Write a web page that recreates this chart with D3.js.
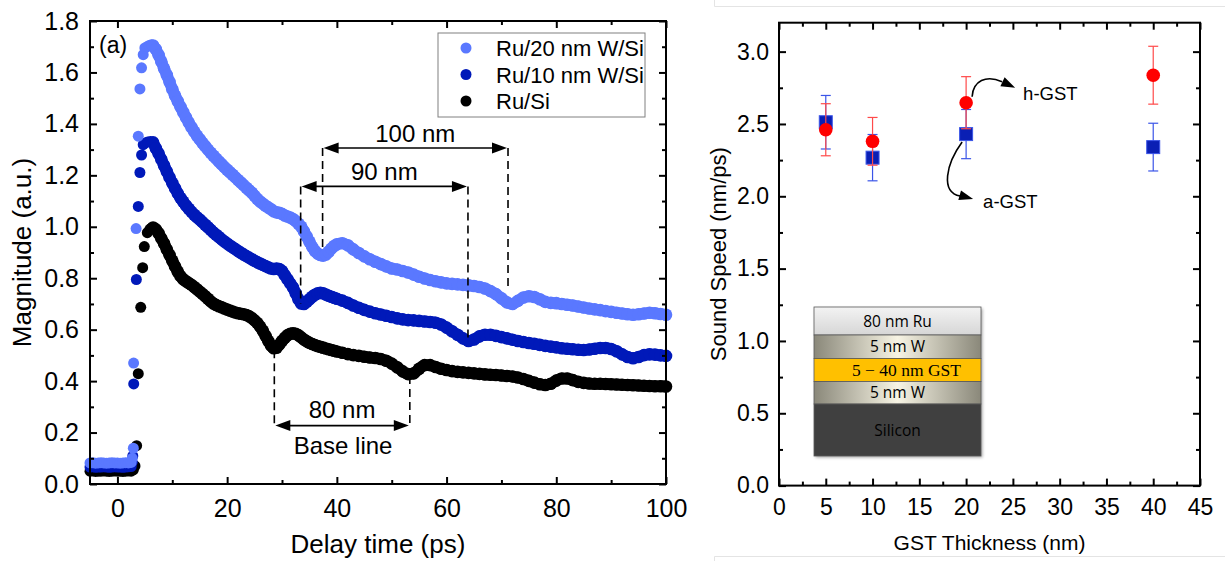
<!DOCTYPE html>
<html>
<head>
<meta charset="utf-8">
<script src="https://cdn.jsdelivr.net/npm/d3@7"></script>
<style>
  body { margin: 0; background: #fff; }
  text { font-family: Arial, "Liberation Sans", sans-serif; fill: #000; }
</style>
</head>
<body>
<svg width="1225" height="561"></svg>
<script>
var svg = d3.select('svg');

// ---------------- panel (a): magnitude vs delay time ----------------
var seriesNames = ['Ru/20 nm W/Si', 'Ru/10 nm W/Si', 'Ru/Si'];
var seriesColours = ['#5a78ff', '#0019b9', '#000000'];

// flat part before time zero
var baseTime = [-5, -4.5, -4, -3.5, -3, -2.5, -2, -1.5, -1, -0.5, 0, 0.5, 1, 1.5, 2, 2.5];
var w20Base = [0.082, 0.083, 0.081, 0.082, 0.083, 0.082, 0.081, 0.082, 0.083, 0.082, 0.082, 0.081, 0.082, 0.083, 0.082, 0.084];
var w10Base = [0.066, 0.067, 0.065, 0.066, 0.066, 0.067, 0.066, 0.065, 0.066, 0.067, 0.066, 0.066, 0.065, 0.066, 0.067, 0.068];
var ruSiBase = [0.050, 0.051, 0.049, 0.050, 0.050, 0.051, 0.050, 0.049, 0.050, 0.051, 0.050, 0.050, 0.049, 0.050, 0.051, 0.050];

// the rise (separate dots)
var w20RiseTime = [2.7, 2.9, 2.95, 3.4, 3.8, 4.1, 4.4, 4.7, 5.0, 5.4, 5.8, 6.2];
var w20RiseVal = [0.10, 0.139, 0.47, 0.993, 1.352, 1.536, 1.618, 1.669, 1.695, 1.700, 1.705, 1.708];
var w10RiseTime = [2.7, 2.8, 2.97, 3.45, 3.8, 4.1, 4.4, 4.7, 5.1, 5.5, 6.0];
var w10RiseVal = [0.085, 0.109, 0.389, 0.795, 1.079, 1.211, 1.279, 1.319, 1.326, 1.330, 1.332];
var ruSiRiseTime = [2.9, 3.2, 3.5, 3.8, 4.25, 4.6, 4.9, 5.45, 5.9, 6.2];
var ruSiRiseVal = [0.055, 0.07, 0.149, 0.429, 0.687, 0.841, 0.923, 0.977, 0.99, 0.995];

// decay after the peak
var decayTime = [6.5, 7, 7.5, 8, 8.5, 9, 9.5, 10, 10.5, 11,
    11.5, 12, 12.5, 13, 13.5, 14, 14.5, 15, 15.5, 16,
    16.5, 17, 17.5, 18, 18.5, 19, 19.5, 20, 20.5, 21,
    21.5, 22, 22.5, 23, 23.5, 24, 24.5, 25, 25.5, 26,
    26.5, 27, 27.5, 28, 28.5, 29, 29.5, 30, 30.5, 31,
    31.5, 32, 32.5, 33, 33.5, 34, 34.5, 35, 35.5, 36,
    36.5, 37, 37.5, 38, 38.5, 39, 39.5, 40,
    41, 42, 43, 44, 45, 46, 47, 48, 49, 50,
    51, 52, 53, 54, 55, 56, 57, 58, 59, 60,
    61, 62, 63, 64, 65, 66, 67, 68, 69, 70,
    71, 72, 73, 74, 75, 76, 77, 78, 79, 80,
    81, 82, 83, 84, 85, 86, 87, 88, 89, 90,
    91, 92, 93, 94, 95, 96, 97, 98, 99, 100];
var w20Decay = [1.705, 1.690, 1.668, 1.642, 1.615, 1.590, 1.563, 1.535, 1.510, 1.488,
    1.466, 1.445, 1.425, 1.405, 1.387, 1.370, 1.354, 1.340, 1.326, 1.313,
    1.300, 1.288, 1.276, 1.265, 1.254, 1.243, 1.232, 1.222, 1.212, 1.202,
    1.192, 1.182, 1.172, 1.162, 1.152, 1.142, 1.132, 1.120, 1.108, 1.098,
    1.090, 1.082, 1.075, 1.068, 1.060, 1.056, 1.054, 1.050, 1.044, 1.040,
    1.036, 1.030, 1.022, 1.012, 1.000, 0.982, 0.962, 0.942, 0.922, 0.906,
    0.896, 0.890, 0.888, 0.892, 0.903, 0.915, 0.925, 0.932,
    0.936, 0.928, 0.912, 0.898, 0.885, 0.874, 0.864, 0.855, 0.846, 0.838,
    0.834, 0.828, 0.822, 0.814, 0.806, 0.799, 0.793, 0.788, 0.784, 0.780,
    0.778, 0.776, 0.774, 0.772, 0.770, 0.766, 0.760, 0.750, 0.738, 0.722,
    0.706, 0.700, 0.712, 0.725, 0.730, 0.727, 0.718, 0.708, 0.704, 0.703,
    0.700, 0.697, 0.694, 0.690, 0.686, 0.682, 0.679, 0.676, 0.672, 0.669,
    0.666, 0.663, 0.660, 0.658, 0.660, 0.663, 0.666, 0.664, 0.661, 0.658];
var w10Decay = [1.328, 1.305, 1.285, 1.262, 1.238, 1.215, 1.192, 1.170, 1.150, 1.130,
    1.112, 1.097, 1.083, 1.070, 1.058, 1.047, 1.037, 1.028, 1.018, 1.008,
    0.998, 0.988, 0.978, 0.969, 0.960, 0.951, 0.943, 0.935, 0.927, 0.920,
    0.913, 0.906, 0.899, 0.892, 0.886, 0.880, 0.874, 0.868, 0.862, 0.857,
    0.852, 0.847, 0.842, 0.838, 0.836, 0.838, 0.836, 0.828, 0.812, 0.796,
    0.780, 0.764, 0.742, 0.718, 0.702, 0.700, 0.708, 0.718, 0.728, 0.736,
    0.741, 0.743, 0.741, 0.737, 0.732, 0.728, 0.724, 0.720,
    0.713, 0.704, 0.694, 0.685, 0.677, 0.670, 0.664, 0.659, 0.654, 0.649,
    0.644, 0.640, 0.637, 0.636, 0.634, 0.632, 0.630, 0.627, 0.620, 0.608,
    0.594, 0.580, 0.566, 0.556, 0.562, 0.574, 0.580, 0.580, 0.576, 0.571,
    0.566, 0.561, 0.556, 0.552, 0.548, 0.545, 0.541, 0.537, 0.534, 0.531,
    0.528, 0.526, 0.524, 0.522, 0.521, 0.523, 0.526, 0.529, 0.529, 0.525,
    0.516, 0.504, 0.494, 0.489, 0.494, 0.501, 0.504, 0.503, 0.500, 0.498];
var ruSiDecay = [0.997, 0.990, 0.975, 0.955, 0.935, 0.912, 0.890, 0.868, 0.846, 0.825,
    0.808, 0.796, 0.788, 0.781, 0.774, 0.766, 0.757, 0.748, 0.739, 0.730,
    0.720, 0.710, 0.702, 0.696, 0.691, 0.687, 0.682, 0.678, 0.674, 0.670,
    0.667, 0.664, 0.662, 0.660, 0.657, 0.652, 0.645, 0.636, 0.626, 0.612,
    0.596, 0.576, 0.556, 0.538, 0.528, 0.530, 0.542, 0.556, 0.568, 0.578,
    0.584, 0.586, 0.584, 0.578, 0.570, 0.562, 0.555, 0.549, 0.544, 0.540,
    0.536, 0.533, 0.530, 0.527, 0.524, 0.521, 0.518, 0.515,
    0.510, 0.505, 0.501, 0.498, 0.495, 0.492, 0.490, 0.486, 0.479, 0.468,
    0.454, 0.438, 0.427, 0.430, 0.448, 0.462, 0.462, 0.455, 0.448, 0.443,
    0.439, 0.436, 0.434, 0.432, 0.430, 0.428, 0.426, 0.425, 0.424, 0.422,
    0.420, 0.418, 0.414, 0.408, 0.401, 0.394, 0.388, 0.385, 0.390, 0.402,
    0.410, 0.410, 0.404, 0.397, 0.393, 0.391, 0.390, 0.390, 0.389, 0.388,
    0.387, 0.386, 0.385, 0.384, 0.383, 0.382, 0.381, 0.380, 0.380, 0.379];

// ---------------- panel (b): sound speed vs GST thickness ----------------
var gstThickness = [5, 10, 20, 40];
var hGstSpeed = [2.46, 2.38, 2.647, 2.837];
var hGstErr = [0.18, 0.165, 0.18, 0.2];
var aGstSpeed = [2.512, 2.267, 2.43, 2.34];
var aGstErr = [0.185, 0.16, 0.17, 0.165];

var stackLayers = ['80 nm Ru', '5 nm W', '5 \u2212 40 nm GST', '5 nm W', 'Silicon'];

function pairs(ts, vs, r) {
    return ts.map((t, i) => ({t: t, v: vs[i], r: r}));
}

var series = [
    {name: seriesNames[0], colour: seriesColours[0], decay: pairs(decayTime, w20Decay, 6.3),
     pts: pairs(baseTime, w20Base, 5.5).concat(pairs(w20RiseTime, w20RiseVal, 5.5), pairs(decayTime, w20Decay, 6.3))},
    {name: seriesNames[1], colour: seriesColours[1], decay: pairs(decayTime, w10Decay, 6.3),
     pts: pairs(baseTime, w10Base, 5.5).concat(pairs(w10RiseTime, w10RiseVal, 5.5), pairs(decayTime, w10Decay, 6.3))},
    {name: seriesNames[2], colour: seriesColours[2], decay: pairs(decayTime, ruSiDecay, 6.3),
     pts: pairs(baseTime, ruSiBase, 5.5).concat(pairs(ruSiRiseTime, ruSiRiseVal, 5.5), pairs(decayTime, ruSiDecay, 6.3))}
];

// draw a boxed frame with inward ticks on all four sides
function frame(g, x, y, o) {
    var x0 = x.range()[0], x1 = x.range()[1];
    var y0 = y.range()[0], y1 = y.range()[1];

    var bottom = g.append('g').attr('transform', `translate(0,${y0})`);
    bottom.call(d3.axisBottom(x).tickValues(o.xMajor).tickSizeInner(-7).tickSizeOuter(0)
        .tickPadding(o.xPad).tickFormat(o.xFmt));
    bottom.append('g').call(d3.axisBottom(x).tickValues(o.xMinor).tickSize(-4).tickFormat(''));

    var top = g.append('g').attr('transform', `translate(0,${y1})`);
    top.call(d3.axisTop(x).tickValues(o.xMajor).tickSize(-7).tickFormat(''));
    top.append('g').call(d3.axisTop(x).tickValues(o.xMinor).tickSize(-4).tickFormat(''));

    var left = g.append('g').attr('transform', `translate(${x0},0)`);
    left.call(d3.axisLeft(y).tickValues(o.yMajor).tickSizeInner(-7).tickSizeOuter(0)
        .tickPadding(o.yPad).tickFormat(d3.format('.1f')));
    left.append('g').call(d3.axisLeft(y).tickValues(o.yMinor).tickSize(-4).tickFormat(''));

    var right = g.append('g').attr('transform', `translate(${x1},0)`);
    right.call(d3.axisRight(y).tickValues(o.yMajor).tickSize(-7).tickFormat(''));
    right.append('g').call(d3.axisRight(y).tickValues(o.yMinor).tickSize(-4).tickFormat(''));

    g.selectAll('.domain').remove();
    g.selectAll('.tick line').attr('stroke', '#000').attr('stroke-width', 2);
    g.selectAll('.tick text').attr('font-size', o.fontSize).attr('fill', '#000')
        .style('font-family', 'Arial, "Liberation Sans", sans-serif');

    g.append('rect')
        .attr('x', x0).attr('y', y1)
        .attr('width', x1 - x0).attr('height', y0 - y1)
        .attr('fill', 'none').attr('stroke', '#000').attr('stroke-width', 2);
}

function arrowHead(g, tipX, tipY, dx, dy, len, half) {
    // dx,dy: unit direction the arrow points to
    var bx = tipX - dx * len, by = tipY - dy * len;
    var nx = -dy, ny = dx;
    g.append('path')
        .attr('d', `M${tipX},${tipY}L${bx + nx * half},${by + ny * half}L${bx - nx * half},${by - ny * half}Z`)
        .attr('fill', '#000');
}

// ======================= left chart =======================
const xL = d3.scaleLinear().domain([-5, 100]).range([90, 666]);
const yL = d3.scaleLinear().domain([0, 1.8]).range([484, 21]);

var gl = svg.append('g');

// scatter (Ru/Si first so the lighter curves sit on top)
var band = d3.line().x(d => xL(d.t)).y(d => yL(d.v)).curve(d3.curveMonotoneX);
series.slice().reverse().forEach(s => {
    var g = gl.append('g');
    // dense dots in the original merge into a band; fill the gaps between the dots
    g.append('path')
        .attr('d', band(s.decay))
        .attr('fill', 'none')
        .attr('stroke', s.colour)
        .attr('stroke-width', 11.5)
        .attr('stroke-linejoin', 'round');
    g.selectAll('circle')
        .data(s.pts)
        .enter()
        .append('circle')
            .attr('cx', d => xL(d.t))
            .attr('cy', d => yL(d.v))
            .attr('r', d => d.r)
            .attr('fill', s.colour);
});

frame(gl, xL, yL, {
    xMajor: [0, 20, 40, 60, 80, 100], xMinor: [10, 30, 50, 70, 90],
    yMajor: [0, 0.2, 0.4, 0.6, 0.8, 1.0, 1.2, 1.4, 1.6, 1.8],
    yMinor: [0.1, 0.3, 0.5, 0.7, 0.9, 1.1, 1.3, 1.5, 1.7],
    xFmt: d3.format('d'), xPad: 15, yPad: 11, fontSize: 25
});

// echo annotations
var echoMarks = [
    {label: '100 nm', t0: 37.4, t1: 71.2, arrowV: 1.306, end0: 0.915, end1: 0.75, labelBelow: false},
    {label: '90 nm', t0: 33.4, t1: 63.9, arrowV: 1.157, end0: 0.70, end1: 0.555, labelBelow: false},
    {label: '80 nm', t0: 28.6, t1: 53.3, arrowV: 0.227, end0: 0.52, end1: 0.42, labelBelow: true}
];
var ann = gl.append('g');
echoMarks.forEach(m => {
    var xa = xL(m.t0), xb = xL(m.t1), ya = yL(m.arrowV);
    var lo = m.labelBelow ? ya + 2 : ya;
    [[xa, m.end0], [xb, m.end1]].forEach(([xx, ve]) => {
        ann.append('line')
            .attr('x1', xx).attr('x2', xx)
            .attr('y1', Math.min(lo, yL(ve))).attr('y2', Math.max(lo, yL(ve)))
            .attr('stroke', '#000').attr('stroke-width', 1.6)
            .attr('stroke-dasharray', '8,5');
    });
    ann.append('line')
        .attr('x1', xa + 10).attr('x2', xb - 10)
        .attr('y1', ya).attr('y2', ya)
        .attr('stroke', '#000').attr('stroke-width', 1.6);
    arrowHead(ann, xa + 1, ya, -1, 0, 15, 5.5);
    arrowHead(ann, xb - 1, ya, 1, 0, 15, 5.5);
    ann.append('text')
        .attr('x', (xa + xb) / 2)
        .attr('y', m.labelBelow ? ya - 8 : ya - 6)
        .attr('text-anchor', 'middle')
        .attr('font-size', 24)
        .text(m.label);
    if (m.labelBelow) {
        ann.append('text')
            .attr('x', (xa + xb) / 2 + 1)
            .attr('y', ya + 28)
            .attr('text-anchor', 'middle')
            .attr('font-size', 24)
            .text('Base line');
    }
});

gl.append('text').attr('x', 99).attr('y', 53).attr('font-size', 23).text('(a)');

// legend
var legend = gl.append('g');
legend.append('rect')
    .attr('x', 438).attr('y', 33).attr('width', 207).attr('height', 84)
    .attr('fill', '#fff').attr('stroke', '#808080').attr('stroke-width', 1);
series.forEach((s, i) => {
    legend.append('circle').attr('cx', 466).attr('cy', 48 + i * 26.5).attr('r', 5.5).attr('fill', s.colour);
    legend.append('text').attr('x', 496).attr('y', 48 + i * 26.5 + 8)
        .attr('font-size', 22).text(s.name);
});

// axis titles
gl.append('text')
    .attr('transform', `translate(31,${(yL.range()[0] + yL.range()[1]) / 2}) rotate(-90)`)
    .attr('text-anchor', 'middle').attr('font-size', 26)
    .text('Magnitude (a.u.)');
gl.append('text')
    .attr('x', (xL.range()[0] + xL.range()[1]) / 2).attr('y', 553)
    .attr('text-anchor', 'middle').attr('font-size', 26)
    .text('Delay time (ps)');

// ======================= right chart =======================
const xR = d3.scaleLinear().domain([0, 45]).range([779, 1200]);
const yR = d3.scaleLinear().domain([0, 3.2]).range([485.6, 22.7]);

// faint panel border of the original figure
var edge = svg.append('g').attr('stroke', '#e4e4e4').attr('stroke-width', 1);
edge.append('line').attr('x1', 714.5).attr('x2', 714.5).attr('y1', 0).attr('y2', 6.5);
edge.append('line').attr('x1', 714.5).attr('x2', 1225).attr('y1', 6.5).attr('y2', 6.5);
edge.append('line').attr('x1', 714.5).attr('x2', 1225).attr('y1', 556.5).attr('y2', 556.5);
edge.append('line').attr('x1', 714.5).attr('x2', 714.5).attr('y1', 556.5).attr('y2', 561);

var gr = svg.append('g');

// inset: layer stack
var defs = svg.append('defs');
var wGrad = defs.append('linearGradient').attr('id', 'wGrad').attr('x1', '0').attr('x2', '1').attr('y1', '0').attr('y2', '0');
wGrad.append('stop').attr('offset', '0').attr('stop-color', '#8a887a');
wGrad.append('stop').attr('offset', '0.5').attr('stop-color', '#f7f4e4');
wGrad.append('stop').attr('offset', '1').attr('stop-color', '#8a887a');
var ruGrad = defs.append('linearGradient').attr('id', 'ruGrad').attr('x1', '0').attr('x2', '0').attr('y1', '0').attr('y2', '1');
ruGrad.append('stop').attr('offset', '0').attr('stop-color', '#f3f3f3');
ruGrad.append('stop').attr('offset', '1').attr('stop-color', '#d6d6d6');
var shadow = defs.append('filter').attr('id', 'shadow').attr('x', '-10%').attr('y', '-10%').attr('width', '130%').attr('height', '130%');
shadow.append('feDropShadow').attr('dx', 1.5).attr('dy', 1.5).attr('stdDeviation', 1.5).attr('flood-opacity', 0.35);

var inset = gr.append('g');
var insetX = 814, insetW = 167;
var layerTop = [307, 335, 358.5, 381.5, 404, 456];
var layerFill = ['url(#ruGrad)', 'url(#wGrad)', '#ffc000', 'url(#wGrad)', '#404040'];
inset.append('rect').attr('x', insetX).attr('y', layerTop[0]).attr('width', insetW)
    .attr('height', layerTop[5] - layerTop[0]).attr('fill', '#404040').attr('filter', 'url(#shadow)');
stackLayers.forEach((name, i) => {
    inset.append('rect')
        .attr('x', insetX).attr('y', layerTop[i])
        .attr('width', insetW).attr('height', layerTop[i + 1] - layerTop[i])
        .attr('fill', layerFill[i]).attr('stroke', '#5a5a5a').attr('stroke-width', 0.8);
    var isGst = i === 2;
    inset.append('text')
        .attr('x', insetX + insetW / 2 + (isGst ? 9 : 0))
        .attr('y', (layerTop[i] + layerTop[i + 1]) / 2 + (isGst ? 6 : 5.5))
        .attr('text-anchor', 'middle')
        .attr('font-size', isGst ? 17.5 : 15.5)
        .style('font-family', isGst ? '"Liberation Serif", "DejaVu Serif", serif' : '"Open Sans", "Noto Sans", sans-serif')
        .attr('fill', i === 4 ? '#fff' : '#000')
        .text(name);
});

// error bars + markers
function errorSeries(vals, errs, colour, errColour, shape) {
    var g = gr.append('g');
    gstThickness.forEach((t, i) => {
        var cx = xR(t);
        g.append('line').attr('x1', cx).attr('x2', cx)
            .attr('y1', yR(vals[i] + errs[i])).attr('y2', yR(vals[i] - errs[i]))
            .attr('stroke', errColour).attr('stroke-width', 1.2);
        [vals[i] + errs[i], vals[i] - errs[i]].forEach(v => {
            g.append('line').attr('x1', cx - 5).attr('x2', cx + 5)
                .attr('y1', yR(v)).attr('y2', yR(v))
                .attr('stroke', errColour).attr('stroke-width', 1.2);
        });
    });
    if (shape === 'square') {
        g.selectAll('rect').data(vals).enter().append('rect')
            .attr('x', (d, i) => xR(gstThickness[i]) - 6.5)
            .attr('y', d => yR(d) - 6.5)
            .attr('width', 13).attr('height', 13)
            .attr('fill', colour).attr('stroke', '#3b55e8').attr('stroke-width', 1);
    } else {
        g.selectAll('circle').data(vals).enter().append('circle')
            .attr('cx', (d, i) => xR(gstThickness[i]))
            .attr('cy', d => yR(d))
            .attr('r', 6.8)
            .attr('fill', colour);
    }
}
errorSeries(aGstSpeed, aGstErr, '#0a1fb4', '#3b55e8', 'square');
errorSeries(hGstSpeed, hGstErr, '#ff0000', '#ff4a4a', 'circle');

frame(gr, xR, yR, {
    xMajor: [0, 5, 10, 15, 20, 25, 30, 35, 40, 45],
    xMinor: [2.5, 7.5, 12.5, 17.5, 22.5, 27.5, 32.5, 37.5, 42.5],
    yMajor: [0, 0.5, 1.0, 1.5, 2.0, 2.5, 3.0],
    yMinor: [0.25, 0.75, 1.25, 1.75, 2.25, 2.75],
    xFmt: d3.format('d'), xPad: 13, yPad: 10, fontSize: 23
});

// curved pointer arrows for the two phases
var hx = xR(gstThickness[2]), hy = yR(hGstSpeed[2]);
var ax = xR(gstThickness[2]), ay = yR(aGstSpeed[2]);
var pointers = gr.append('g');
pointers.append('path')
    .attr('d', `M${hx + 6},${hy - 6} C${hx + 7},${hy - 22} ${hx + 20},${hy - 28} ${hx + 36},${hy - 21}`)
    .attr('fill', 'none').attr('stroke', '#000').attr('stroke-width', 1.6);
arrowHead(pointers, hx + 49, hy - 15, 0.9, 0.42, 14, 5);
pointers.append('path')
    .attr('d', `M${ax - 4},${ay + 8} C${ax - 20},${ay + 30} ${ax - 26},${ay + 58} ${ax - 6},${ay + 62}`)
    .attr('fill', 'none').attr('stroke', '#000').attr('stroke-width', 1.6);
arrowHead(pointers, ax + 7, ay + 65, 0.96, 0.27, 14, 5);
pointers.append('text').attr('x', hx + 57).attr('y', hy - 3).attr('font-size', 18.5).text('h-GST');
pointers.append('text').attr('x', ax + 17).attr('y', ay + 74).attr('font-size', 18.5).text('a-GST');

// axis titles
gr.append('text')
    .attr('transform', `translate(726,${(yR.range()[0] + yR.range()[1]) / 2}) rotate(-90)`)
    .attr('text-anchor', 'middle').attr('font-size', 22)
    .text('Sound Speed (nm/ps)');
gr.append('text')
    .attr('x', (xR.range()[0] + xR.range()[1]) / 2).attr('y', 550)
    .attr('text-anchor', 'middle').attr('font-size', 21)
    .text('GST Thickness (nm)');
</script>
</body>
</html>
